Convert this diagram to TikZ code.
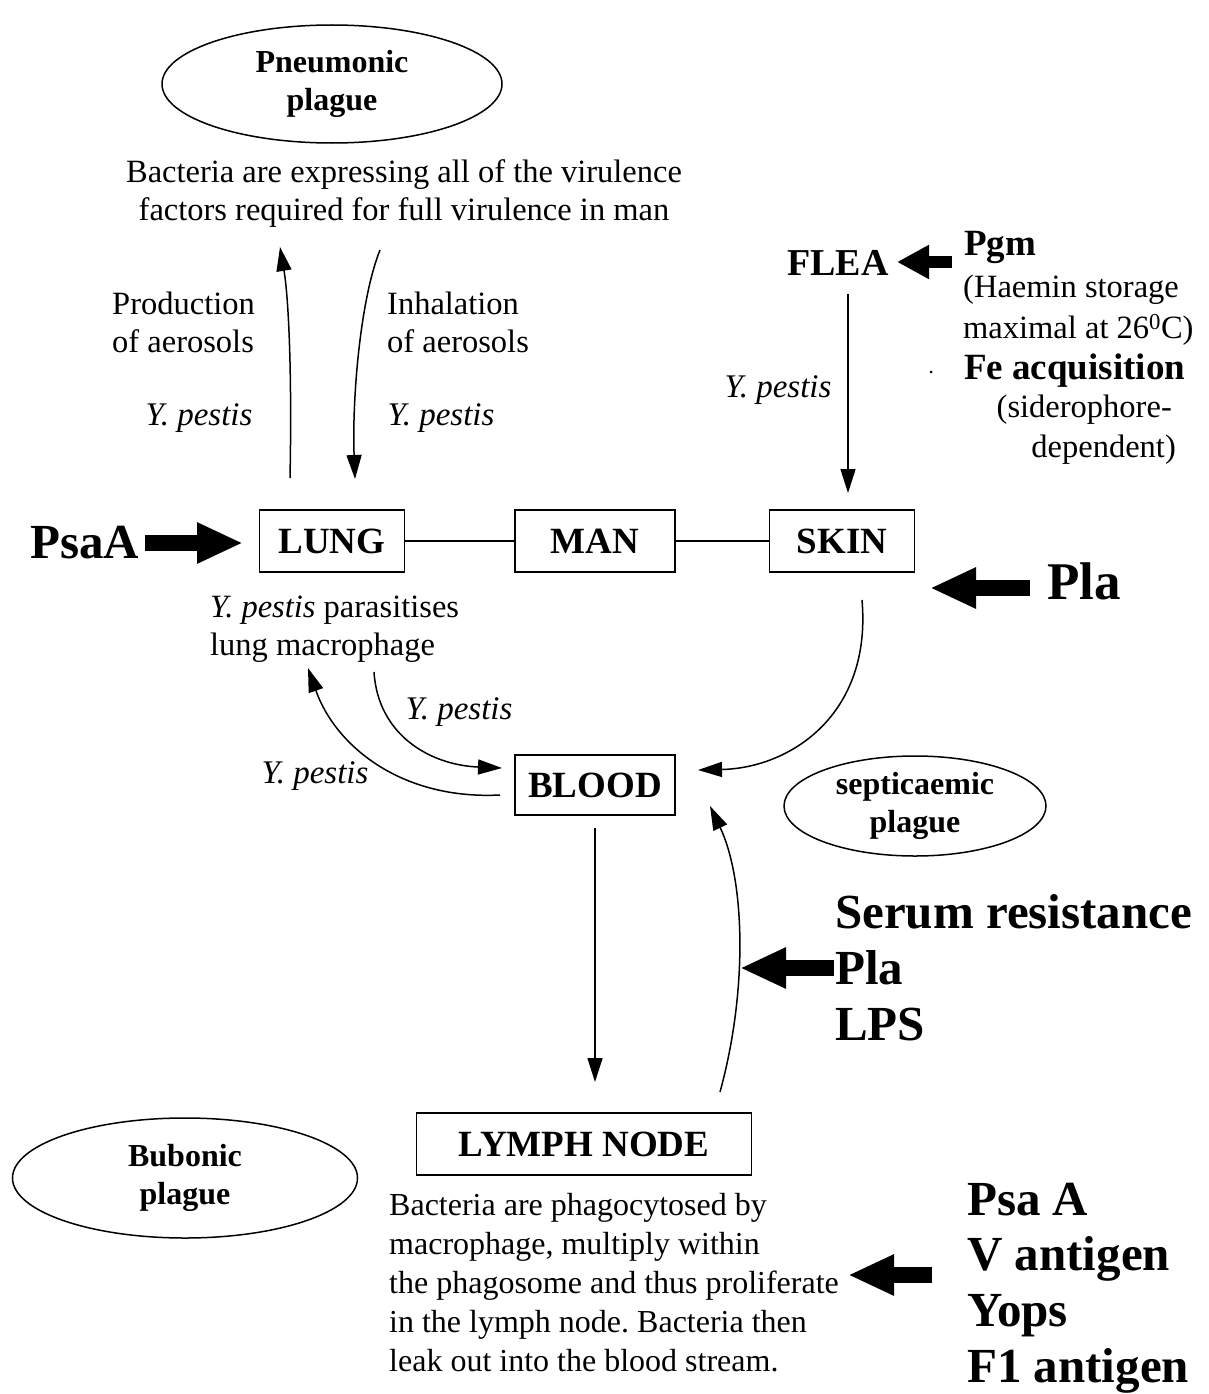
\documentclass[tikz,border=0pt]{standalone}
\usepackage{fontspec}
\setmainfont{Liberation Serif}
\frenchspacing
\usetikzlibrary{arrows.meta,shapes.geometric}
\begin{document}
\begin{tikzpicture}[x=1pt,y=-1pt,
  box/.style={draw, line width=1.5pt, minimum height=62pt, inner sep=0pt, font=\fontsize{37}{40}\selectfont\bfseries},
  ell/.style={draw, ellipse, line width=1.5pt, inner sep=0pt, align=center, font=\fontsize{32}{38}\selectfont\bfseries},
  txt/.style={font=\fontsize{32.5}{38}\selectfont, inner sep=0pt},
  ital/.style={font=\fontsize{33}{38}\selectfont\itshape, inner sep=0pt},
  big/.style={font=\fontsize{49}{58}\selectfont\bfseries, inner sep=0pt, anchor=west},
  mid/.style={font=\fontsize{37}{40}\selectfont\bfseries, inner sep=0pt, anchor=west},
  thinarr/.style={line width=1.5pt, -{Triangle[length=24pt,width=15pt]}},
  fat/.style={line width=16pt, -{Triangle[length=46pt,width=38pt]}},
]
\useasboundingbox (0,0) rectangle (1208,1394);

% ellipses
\node[ell, minimum width=340pt, minimum height=118pt] (pneu) at (332,84) {Pneumonic\\plague};
\node[ell, minimum width=262pt, minimum height=100pt] (septi) at (915,806) {septicaemic\\plague};
\node[ell, minimum width=345pt, minimum height=120pt] (bubo) at (185,1178) {Bubonic\\plague};

% top text
\node[txt, align=center] (virtext) at (404,194) {Bacteria are expressing all of the virulence\\factors required for full virulence in man};

% boxes
\node[box, minimum width=145pt] (lung) at (332,541) {LUNG};
\node[box, minimum width=160pt] (man) at (595,541) {MAN};
\node[box, minimum width=145pt] (skin) at (842,541) {SKIN};
\node[box, minimum width=160pt, minimum height=60pt] (blood) at (595,785) {BLOOD};
\node[box, minimum width=335pt] (lymph) at (584,1144) {LYMPH NODE};
\draw[line width=1.5pt] (lung.east) -- (man.west);
\draw[line width=1.5pt] (man.east) -- (skin.west);

% aerosol arrows
\coordinate (prodS) at (290,478);
\coordinate (prodE) at (280,247);
\coordinate (inhS) at (380,250);
\coordinate (inhE) at (355,479);
\draw[thinarr] (prodS) .. controls (292,380) and (289,300) .. (prodE);
\draw[thinarr] (inhS) .. controls (360,300) and (352,400) .. (inhE);
\node[txt, align=left, anchor=west] (prod) at (112,322) {Production\\of aerosols};
\node[ital] (yp1) at (199,418) {Y. pestis};
\node[txt, align=left, anchor=west] (inh) at (387,322) {Inhalation\\of aerosols};
\node[ital] (yp2) at (441,418) {Y. pestis};

% flea
\node[font=\fontsize{38}{40}\selectfont\bfseries, inner sep=0pt] (flea) at (838,263) {FLEA};
\coordinate (fleaAS) at (952,262);
\coordinate (fleaAE) at (897,262);
\draw[fat, line width=12pt, -{Triangle[length=32pt,width=32pt]}] (fleaAS) -- (fleaAE);
\node[mid] (pgm) at (964,247) {Pgm};
\node[txt, anchor=west] (haem) at (963,290) {(Haemin storage};
\node[txt, anchor=west] (maxi) at (963,330) {maximal at 26\textsuperscript{0}C)};
\node[mid] (fe) at (964,371) {Fe acquisition};
\node[txt, anchor=east] (sid) at (1172,410) {(siderophore-};
\node[txt, anchor=east] (dep) at (1176,450) {dependent)};
\fill (931,372) circle (1.5pt);
\coordinate (fleaD1) at (848,294);
\coordinate (fleaD2) at (848,493);
\draw[thinarr] (fleaD1) -- (fleaD2);
\node[ital] (yp3) at (778,390) {Y. pestis};

% PsaA and Pla
\node[big] (psaA1) at (30,543) {PsaA};
\coordinate (psaS) at (145,543);
\coordinate (psaE) at (243,543);
\draw[fat] (psaS) -- (psaE);
\node[big, font=\fontsize{53}{58}\selectfont\bfseries] (pla1) at (1047,581) {Pla};
\coordinate (plaS) at (1030,588);
\coordinate (plaE) at (930,588);
\draw[fat] (plaS) -- (plaE);

% lung macrophage text
\node[txt, align=left, anchor=west] (lungtxt) at (210,629) {\textit{Y. pestis} parasitises\\lung macrophage};

% curves around blood
\coordinate (skinS) at (862,600);
\coordinate (bloodR) at (698,770);
\draw[thinarr] (skinS) .. controls (872,715) and (790,768) .. (bloodR);
\coordinate (ltS) at (374,672);
\coordinate (bloodL1) at (502,768);
\draw[thinarr] (ltS) .. controls (378,735) and (430,765) .. (bloodL1);
\node[ital] (yp4) at (459,712) {Y. pestis};
\coordinate (bloodL2) at (500,795);
\coordinate (ltE) at (308,668);
\draw[thinarr] (bloodL2) .. controls (400,800) and (335,745) .. (ltE);
\node[ital] (yp5) at (315,776) {Y. pestis};

% blood to lymph and back
\coordinate (bdS) at (595,828);
\coordinate (bdE) at (595,1082);
\draw[thinarr] (bdS) -- (bdE);
\coordinate (lyS) at (720,1092);
\coordinate (lyE) at (710,806);
\draw[thinarr] (lyS) .. controls (748,990) and (745,880) .. (lyE);

% serum resistance
\node[big] (serum) at (835,912) {Serum resistance};
\node[big] (pla2) at (835,968) {Pla};
\node[big] (lps) at (835,1025) {LPS};
\coordinate (srS) at (834,968);
\coordinate (srE) at (740,968);
\draw[fat] (srS) -- (srE);

% lymph text
\node[txt, align=left, anchor=west, font=\fontsize{32}{39}\selectfont] (lytxt) at (389,1283) {Bacteria are phagocytosed by\\macrophage, multiply within\\the phagosome and thus proliferate\\in the lymph node. Bacteria then\\leak out into the blood stream.};
\coordinate (lyAS) at (932,1275);
\coordinate (lyAE) at (848,1275);
\draw[fat] (lyAS) -- (lyAE);
\node[big] (psa2) at (967,1200) {Psa A};
\node[big] (vant) at (967,1259) {V antigen};
\node[big] (yops) at (967,1316) {Yops};
\node[big] (f1) at (967,1371) {F1 antigen};
\end{tikzpicture}
\end{document}
